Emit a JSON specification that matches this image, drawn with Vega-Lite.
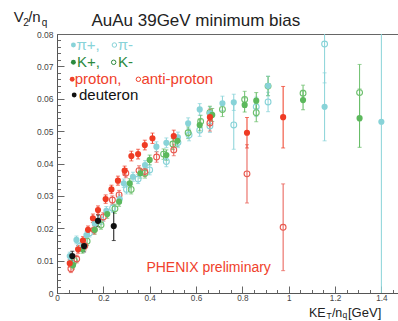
{
 "$schema": "https://vega.github.io/schema/vega-lite/v6.json",
 "width": 341, "height": 259,
 "autosize": "none",
 "padding": {"left": 57, "top": 34, "right": 0, "bottom": 28},
 "background": "white",
 "config": {"view": {"stroke": "#666", "strokeWidth": 1}},
 "resolve": {"axis": {"x": "independent", "y": "independent"}},
 "datasets": {"v2": [
  {"s":"π+","x":0.055,"y":0.0114,"e":0.0012},{"s":"π+","x":0.084,"y":0.0164,"e":0.0012},{"s":"π+","x":0.127,"y":0.0179,"e":0.0012},{"s":"π+","x":0.163,"y":0.0215,"e":0.0012},{"s":"π+","x":0.213,"y":0.0254,"e":0.0013},{"s":"π+","x":0.271,"y":0.029,"e":0.0013},{"s":"π+","x":0.288,"y":0.0339,"e":0.0013},{"s":"π+","x":0.328,"y":0.0359,"e":0.0014},{"s":"π+","x":0.38,"y":0.0395,"e":0.0014},{"s":"π+","x":0.429,"y":0.0452,"e":0.0015},{"s":"π+","x":0.472,"y":0.0464,"e":0.0015},{"s":"π+","x":0.522,"y":0.0481,"e":0.0016},{"s":"π+","x":0.566,"y":0.0524,"e":0.0017},{"s":"π+","x":0.616,"y":0.0567,"e":0.0018},{"s":"π+","x":0.66,"y":0.0555,"e":0.002},{"s":"π+","x":0.714,"y":0.0586,"e":0.0022},{"s":"π+","x":0.763,"y":0.0589,"e":0.0025},{"s":"π+","x":0.911,"y":0.064,"e":0.003},{"s":"π+","x":1.155,"y":0.0575,"e":0.0105},{"s":"π+","x":1.4,"y":0.0529,"e":0.07},
  {"s":"π-","x":0.06,"y":0.0095,"e":0.0012},{"s":"π-","x":0.1,"y":0.0145,"e":0.0012},{"s":"π-","x":0.14,"y":0.0185,"e":0.0012},{"s":"π-","x":0.19,"y":0.0225,"e":0.0013},{"s":"π-","x":0.24,"y":0.0262,"e":0.0013},{"s":"π-","x":0.3,"y":0.032,"e":0.0014},{"s":"π-","x":0.35,"y":0.0352,"e":0.0014},{"s":"π-","x":0.4,"y":0.038,"e":0.0015},{"s":"π-","x":0.472,"y":0.0406,"e":0.0016},{"s":"π-","x":0.522,"y":0.0465,"e":0.0016},{"s":"π-","x":0.57,"y":0.0488,"e":0.0018},{"s":"π-","x":0.616,"y":0.0503,"e":0.0019},{"s":"π-","x":0.66,"y":0.0516,"e":0.002},{"s":"π-","x":0.763,"y":0.0519,"e":0.0075},{"s":"π-","x":0.86,"y":0.0575,"e":0.003},{"s":"π-","x":0.911,"y":0.059,"e":0.003},{"s":"π-","x":1.155,"y":0.0769,"e":0.012},
  {"s":"K+","x":0.069,"y":0.0086,"e":0.0012},{"s":"K+","x":0.11,"y":0.0135,"e":0.0012},{"s":"K+","x":0.163,"y":0.0195,"e":0.0013},{"s":"K+","x":0.217,"y":0.0244,"e":0.0013},{"s":"K+","x":0.268,"y":0.0282,"e":0.0014},{"s":"K+","x":0.314,"y":0.0339,"e":0.0014},{"s":"K+","x":0.36,"y":0.037,"e":0.0015},{"s":"K+","x":0.4,"y":0.0411,"e":0.0015},{"s":"K+","x":0.472,"y":0.0426,"e":0.0016},{"s":"K+","x":0.52,"y":0.047,"e":0.0017},{"s":"K+","x":0.616,"y":0.0519,"e":0.0018},{"s":"K+","x":0.67,"y":0.055,"e":0.002},{"s":"K+","x":0.81,"y":0.0581,"e":0.0022},{"s":"K+","x":0.86,"y":0.0594,"e":0.0025},{"s":"K+","x":1.062,"y":0.0596,"e":0.003},{"s":"K+","x":1.306,"y":0.054,"e":0.009},
  {"s":"K-","x":0.075,"y":0.01,"e":0.0012},{"s":"K-","x":0.13,"y":0.016,"e":0.0013},{"s":"K-","x":0.19,"y":0.021,"e":0.0013},{"s":"K-","x":0.25,"y":0.026,"e":0.0014},{"s":"K-","x":0.32,"y":0.032,"e":0.0014},{"s":"K-","x":0.38,"y":0.037,"e":0.0015},{"s":"K-","x":0.46,"y":0.0429,"e":0.0016},{"s":"K-","x":0.5,"y":0.046,"e":0.0017},{"s":"K-","x":0.566,"y":0.0495,"e":0.0018},{"s":"K-","x":0.62,"y":0.053,"e":0.0019},{"s":"K-","x":0.66,"y":0.0557,"e":0.002},{"s":"K-","x":0.714,"y":0.0567,"e":0.0022},{"s":"K-","x":0.81,"y":0.0598,"e":0.0025},{"s":"K-","x":0.86,"y":0.0557,"e":0.0028},{"s":"K-","x":0.911,"y":0.0639,"e":0.003},{"s":"K-","x":1.062,"y":0.0617,"e":0.0025},{"s":"K-","x":1.306,"y":0.0619,"e":0.0087},
  {"s":"proton","x":0.055,"y":0.0092,"e":0.0012},{"s":"proton","x":0.091,"y":0.0135,"e":0.0012},{"s":"proton","x":0.112,"y":0.0162,"e":0.0012},{"s":"proton","x":0.134,"y":0.0195,"e":0.0012},{"s":"proton","x":0.155,"y":0.0231,"e":0.0013},{"s":"proton","x":0.177,"y":0.0256,"e":0.0013},{"s":"proton","x":0.21,"y":0.029,"e":0.0013},{"s":"proton","x":0.235,"y":0.032,"e":0.0013},{"s":"proton","x":0.263,"y":0.0347,"e":0.0014},{"s":"proton","x":0.292,"y":0.0378,"e":0.0014},{"s":"proton","x":0.321,"y":0.0423,"e":0.0015},{"s":"proton","x":0.35,"y":0.0429,"e":0.0015},{"s":"proton","x":0.379,"y":0.0457,"e":0.0015},{"s":"proton","x":0.412,"y":0.0478,"e":0.0016},{"s":"proton","x":0.504,"y":0.0485,"e":0.0018},{"s":"proton","x":0.66,"y":0.0543,"e":0.0025},{"s":"proton","x":0.82,"y":0.0495,"e":0.0047},{"s":"proton","x":0.976,"y":0.0543,"e":0.0095},
  {"s":"anti-proton","x":0.06,"y":0.0075,"e":0.0012},{"s":"anti-proton","x":0.085,"y":0.0105,"e":0.0012},{"s":"anti-proton","x":0.12,"y":0.0145,"e":0.0012},{"s":"anti-proton","x":0.16,"y":0.0195,"e":0.0013},{"s":"anti-proton","x":0.2,"y":0.0235,"e":0.0013},{"s":"anti-proton","x":0.239,"y":0.0287,"e":0.0013},{"s":"anti-proton","x":0.268,"y":0.0303,"e":0.0014},{"s":"anti-proton","x":0.297,"y":0.037,"e":0.0014},{"s":"anti-proton","x":0.354,"y":0.0378,"e":0.0015},{"s":"anti-proton","x":0.379,"y":0.0375,"e":0.0015},{"s":"anti-proton","x":0.43,"y":0.042,"e":0.0016},{"s":"anti-proton","x":0.504,"y":0.0442,"e":0.0018},{"s":"anti-proton","x":0.66,"y":0.0525,"e":0.0025},{"s":"anti-proton","x":0.82,"y":0.0368,"e":0.009},{"s":"anti-proton","x":0.976,"y":0.0203,"e":0.0134},
  {"s":"deuteron","x":0.066,"y":0.0114,"e":0.0015},{"s":"deuteron","x":0.117,"y":0.0145,"e":0.0018},{"s":"deuteron","x":0.177,"y":0.0223,"e":0.0018},{"s":"deuteron","x":0.245,"y":0.0207,"e":0.0045}
 ]},
 "layer": [
  {"data": {"name": "v2"},
   "mark": {"type": "errorbar", "ticks": {"size": 4}, "thickness": 1, "clip": true},
   "encoding": {
    "x": {"field": "x", "type": "quantitative", "scale": {"domain": [0, 1.4718], "nice": false, "zero": false},
     "axis": {"orient": "bottom", "title": null, "grid": false, "values": [0,0.2,0.4,0.6,0.8,1,1.2,1.4],
      "labels": false, "ticks": true, "tickSize": -7, "domain": true, "domainColor": "#555", "tickColor": "#666"}},
    "y": {"field": "y", "type": "quantitative", "scale": {"domain": [0, 0.08], "nice": false, "zero": false},
     "axis": {"orient": "left", "title": null, "grid": false, "values": [0,0.01,0.02,0.03,0.04,0.05,0.06,0.07,0.08],
      "labels": false, "ticks": true, "tickSize": -7, "domain": true, "domainColor": "#555", "tickColor": "#666"}},
    "yError": {"field": "e"},
    "color": {"field": "s", "type": "nominal", "legend": null,
     "scale": {"domain": ["π+","π-","K+","K-","proton","anti-proton","deuteron"], "range": ["#88d3d8","#88d3d8","#5cb85c","#6cbf6c","#ef3b24","#e85a50","#111111"]}}
   }},
  {"data": {"name": "v2"},
   "transform": [{"filter": {"field": "s", "oneOf": ["π-","K-","anti-proton"]}}],
   "mark": {"type": "point", "shape": "circle", "filled": false, "size": 34, "strokeWidth": 1.1, "opacity": 1, "clip": true},
   "encoding": {
    "x": {"field": "x", "type": "quantitative",
     "axis": {"orient": "bottom", "title": null, "grid": false, "values": [0.05,0.1,0.15,0.25,0.3,0.35,0.45,0.5,0.55,0.65,0.7,0.75,0.85,0.9,0.95,1.05,1.1,1.15,1.25,1.3,1.35,1.45],
      "labels": false, "ticks": true, "tickSize": -3.5, "domain": false, "tickColor": "#666"}},
    "y": {"field": "y", "type": "quantitative",
     "axis": {"orient": "left", "title": null, "grid": false, "values": [0.002,0.004,0.006,0.008,0.012,0.014,0.016,0.018,0.022,0.024,0.026,0.028,0.032,0.034,0.036,0.038,0.042,0.044,0.046,0.048,0.052,0.054,0.056,0.058,0.062,0.064,0.066,0.068,0.072,0.074,0.076,0.078],
      "labels": false, "ticks": true, "tickSize": -3.5, "domain": false, "tickColor": "#666"}},
    "color": {"field": "s", "type": "nominal", "legend": null}}},
  {"data": {"name": "v2"},
   "transform": [{"filter": {"field": "s", "oneOf": ["π+","K+","proton","deuteron"]}}],
   "mark": {"type": "point", "shape": "circle", "filled": true, "size": 38, "opacity": 1, "clip": true},
   "encoding": {
    "x": {"field": "x", "type": "quantitative",
     "axis": {"orient": "bottom", "title": null, "grid": false, "values": [0,0.2,0.4,0.6,0.8,1,1.2,1.4], "labelExpr": "format(datum.value, '~g')",
      "ticks": false, "domain": false, "labelPadding": 1.5, "labelColor": "#444", "labelFont": "Liberation Sans", "labelFontSize": 8.2, "labelOverlap": false, "labelFlush": false, "labelBound": false}},
    "y": {"field": "y", "type": "quantitative",
     "axis": {"orient": "left", "title": null, "grid": false, "values": [0,0.01,0.02,0.03,0.04,0.05,0.06,0.07,0.08], "labelExpr": "datum.value == 0 ? '0' : format(datum.value, '.2f')",
      "ticks": false, "domain": false, "labelPadding": 4, "labelColor": "#444", "labelFont": "Liberation Sans", "labelFontSize": 8.5, "labelOverlap": false, "labelFlush": false, "labelBound": false}},
    "color": {"field": "s", "type": "nominal", "legend": null}}},

  {"data": {"values": [{}]}, "mark": {"type": "text", "text": "AuAu 39GeV minimum bias", "font": "Liberation Sans", "fontSize": 17, "align": "left", "baseline": "alphabetic", "color": "#222"}, "encoding": {"x": {"datum": 0.1485, "axis": null}, "y": {"datum": 0.08247, "axis": null}}},
  {"data": {"values": [{}]}, "mark": {"type": "text", "text": "V", "font": "Liberation Sans", "fontSize": 15, "align": "left", "baseline": "alphabetic", "color": "#222"}, "encoding": {"x": {"datum": -0.1869, "axis": null}, "y": {"datum": 0.0838, "axis": null}}},
  {"data": {"values": [{}]}, "mark": {"type": "text", "text": "2", "font": "Liberation Sans", "fontSize": 10, "align": "left", "baseline": "alphabetic", "color": "#222"}, "encoding": {"x": {"datum": -0.1459, "axis": null}, "y": {"datum": 0.08237, "axis": null}}},
  {"data": {"values": [{}]}, "mark": {"type": "text", "text": "/n", "font": "Liberation Sans", "fontSize": 15, "align": "left", "baseline": "alphabetic", "color": "#222"}, "encoding": {"x": {"datum": -0.1243, "axis": null}, "y": {"datum": 0.0838, "axis": null}}},
  {"data": {"values": [{}]}, "mark": {"type": "text", "text": "q", "font": "Liberation Sans", "fontSize": 10, "align": "left", "baseline": "alphabetic", "color": "#222"}, "encoding": {"x": {"datum": -0.066, "axis": null}, "y": {"datum": 0.08237, "axis": null}}},

  {"data": {"values": [{}]}, "mark": {"type": "text", "text": "KE", "font": "Liberation Sans", "fontSize": 12.5, "align": "left", "baseline": "alphabetic", "color": "#222"}, "encoding": {"x": {"datum": 1.0876, "axis": null}, "y": {"datum": -0.00726, "axis": null}}},
  {"data": {"values": [{}]}, "mark": {"type": "text", "text": "T", "font": "Liberation Sans", "fontSize": 8.5, "align": "left", "baseline": "alphabetic", "color": "#222"}, "encoding": {"x": {"datum": 1.1630, "axis": null}, "y": {"datum": -0.00788, "axis": null}}},
  {"data": {"values": [{}]}, "mark": {"type": "text", "text": "/n", "font": "Liberation Sans", "fontSize": 12.5, "align": "left", "baseline": "alphabetic", "color": "#222"}, "encoding": {"x": {"datum": 1.1865, "axis": null}, "y": {"datum": -0.00726, "axis": null}}},
  {"data": {"values": [{}]}, "mark": {"type": "text", "text": "q", "font": "Liberation Sans", "fontSize": 8.5, "align": "left", "baseline": "alphabetic", "color": "#222"}, "encoding": {"x": {"datum": 1.2320, "axis": null}, "y": {"datum": -0.00775, "axis": null}}},
  {"data": {"values": [{}]}, "mark": {"type": "text", "text": "[GeV]", "font": "Liberation Sans", "fontSize": 13, "align": "left", "baseline": "alphabetic", "color": "#222"}, "encoding": {"x": {"datum": 1.2560, "axis": null}, "y": {"datum": -0.00726, "axis": null}}},

  {"data": {"values": [{}]}, "mark": {"type": "point", "shape": "circle", "filled": true, "size": 24, "opacity": 1, "color": "#88d3d8"}, "encoding": {"x": {"datum": 0.0708, "axis": null}, "y": {"datum": 0.0766, "axis": null}}},
  {"data": {"values": [{}]}, "mark": {"type": "point", "shape": "circle", "filled": false, "size": 20, "strokeWidth": 1, "opacity": 1, "color": "#88d3d8"}, "encoding": {"x": {"datum": 0.2477, "axis": null}, "y": {"datum": 0.0766, "axis": null}}},
  {"data": {"values": [{}]}, "mark": {"type": "text", "text": "π+,", "font": "Liberation Sans", "fontSize": 15, "align": "left", "baseline": "alphabetic", "color": "#88d3d8"}, "encoding": {"x": {"datum": 0.0838, "axis": null}, "y": {"datum": 0.07521, "axis": null}}},
  {"data": {"values": [{}]}, "mark": {"type": "text", "text": "π-", "font": "Liberation Sans", "fontSize": 15, "align": "left", "baseline": "alphabetic", "color": "#88d3d8"}, "encoding": {"x": {"datum": 0.262, "axis": null}, "y": {"datum": 0.07521, "axis": null}}},

  {"data": {"values": [{}]}, "mark": {"type": "point", "shape": "circle", "filled": true, "size": 24, "opacity": 1, "color": "#2b8a3e"}, "encoding": {"x": {"datum": 0.0708, "axis": null}, "y": {"datum": 0.07126, "axis": null}}},
  {"data": {"values": [{}]}, "mark": {"type": "point", "shape": "circle", "filled": false, "size": 20, "strokeWidth": 1, "opacity": 1, "color": "#2b8a3e"}, "encoding": {"x": {"datum": 0.2447, "axis": null}, "y": {"datum": 0.07126, "axis": null}}},
  {"data": {"values": [{}]}, "mark": {"type": "text", "text": "K+,", "font": "Liberation Sans", "fontSize": 15, "align": "left", "baseline": "alphabetic", "color": "#2b8a3e"}, "encoding": {"x": {"datum": 0.0863, "axis": null}, "y": {"datum": 0.06996, "axis": null}}},
  {"data": {"values": [{}]}, "mark": {"type": "text", "text": "K-", "font": "Liberation Sans", "fontSize": 15, "align": "left", "baseline": "alphabetic", "color": "#2b8a3e"}, "encoding": {"x": {"datum": 0.2633, "axis": null}, "y": {"datum": 0.06996, "axis": null}}},

  {"data": {"values": [{}]}, "mark": {"type": "point", "shape": "circle", "filled": true, "size": 24, "opacity": 1, "color": "#f0412b"}, "encoding": {"x": {"datum": 0.0656, "axis": null}, "y": {"datum": 0.06601, "axis": null}}},
  {"data": {"values": [{}]}, "mark": {"type": "point", "shape": "circle", "filled": false, "size": 20, "strokeWidth": 1, "opacity": 1, "color": "#f0412b"}, "encoding": {"x": {"datum": 0.3513, "axis": null}, "y": {"datum": 0.06601, "axis": null}}},
  {"data": {"values": [{}]}, "mark": {"type": "text", "text": "proton,", "font": "Liberation Sans", "fontSize": 15, "align": "left", "baseline": "alphabetic", "color": "#f0412b"}, "encoding": {"x": {"datum": 0.0764, "axis": null}, "y": {"datum": 0.06456, "axis": null}}},
  {"data": {"values": [{}]}, "mark": {"type": "text", "text": "anti-proton", "font": "Liberation Sans", "fontSize": 15, "align": "left", "baseline": "alphabetic", "color": "#f0412b"}, "encoding": {"x": {"datum": 0.3643, "axis": null}, "y": {"datum": 0.06456, "axis": null}}},

  {"data": {"values": [{}]}, "mark": {"type": "point", "shape": "circle", "filled": true, "size": 24, "opacity": 1, "color": "#111111"}, "encoding": {"x": {"datum": 0.0742, "axis": null}, "y": {"datum": 0.06116, "axis": null}}},
  {"data": {"values": [{}]}, "mark": {"type": "text", "text": "deuteron", "font": "Liberation Sans", "fontSize": 15, "align": "left", "baseline": "alphabetic", "color": "#111111"}, "encoding": {"x": {"datum": 0.095, "axis": null}, "y": {"datum": 0.05961, "axis": null}}},

  {"data": {"values": [{}]}, "mark": {"type": "text", "text": "PHENIX preliminary", "font": "Liberation Sans", "fontSize": 14, "align": "left", "baseline": "alphabetic", "color": "#f0412b"}, "encoding": {"x": {"datum": 0.3858, "axis": null}, "y": {"datum": 0.00658, "axis": null}}}
 ]
}
